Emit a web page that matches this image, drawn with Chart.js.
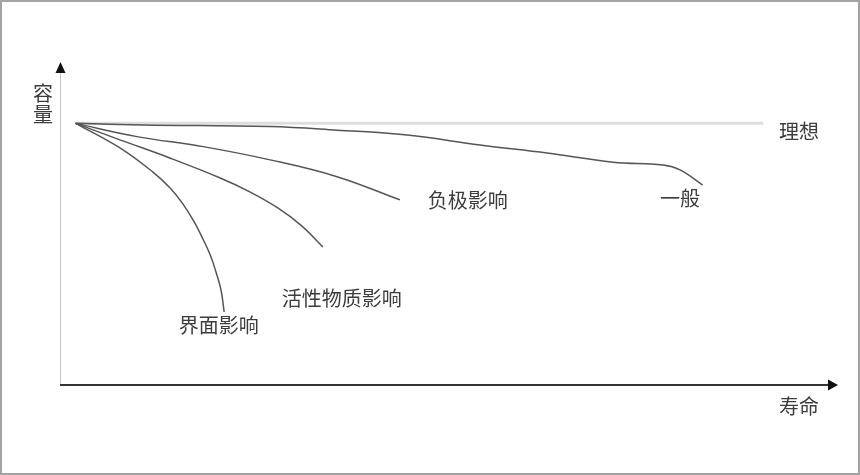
<!DOCTYPE html>
<html>
<head>
<meta charset="utf-8">
<script src="https://cdn.jsdelivr.net/npm/chart.js@4.4.1/dist/chart.umd.min.js"></script>
<style>
  html, body { margin: 0; padding: 0; background: #fff; }
  #chart { display: block; }
</style>
</head>
<body>
<canvas id="chart" width="860" height="475"></canvas>
<script>
// --- Curve data (x = 寿命, y = 容量, both 0..100) ---
const idealX = [2, 90.4];
const idealY = [81, 81];

const generalX = [2, 10.7, 27.0, 35.6, 44.6, 54.0, 62.6, 71.1, 77.5, 79.7, 82.6];
const generalY = [81, 80.5, 80.0, 78.9, 77.4, 74.3, 71.8, 69.0, 68.1, 66.6, 61.9];

const anodeX = [2, 9.9, 18.4, 27.0, 35.6, 43.7];
const anodeY = [81, 76.9, 73.8, 69.7, 64.5, 57.3];

const activeX = [2, 7.7, 14.1, 20.6, 24.4, 28.0, 31.1, 33.8];
const activeY = [81, 75.9, 70.3, 64.1, 59.8, 54.8, 49.2, 42.7];

const interfaceX = [2, 7.7, 11.95, 14.15, 15.7, 17.1, 18.25, 19.3, 20.05, 20.7, 21.1];
const interfaceY = [81, 73.4, 65.9, 61.0, 56.4, 51.1, 45.8, 40.3, 35.0, 29.4, 22.6];

// curve labels: text, x, y (centre, in data units)
const labelTexts = ["理想", "一般", "负极影响", "活性物质影响", "界面影响"];
const labelX = [95.0, 79.7, 52.4, 36.2, 20.4];
const labelY = [78.6, 57.9, 57.3, 26.9, 18.6];

const xAxisTitle = "寿命";
const yAxisTitle = ["容", "量"];

const FONT = '20px "Noto Sans CJK SC", "Noto Sans", sans-serif';
const TEXT_COLOR = "#3c3c3c";

function toPoints(xs, ys) {
  return xs.map((x, i) => ({ x, y: ys[i] }));
}

function curve(xs, ys) {
  return {
    data: toPoints(xs, ys),
    showLine: true,
    borderColor: "#555",
    borderWidth: 1.5,
    pointRadius: 0,
    tension: 0.4,
    order: 1,
  };
}

// --- Axes with arrows, titles, labels and frame ---
const diagramPlugin = {
  id: "diagram",
  afterDatasetsDraw(chart) {
    const { ctx, chartArea: a, scales } = chart;
    const x0 = a.left;
    const y0 = a.bottom;
    ctx.save();

    // y axis: thin grey line + black arrow head
    ctx.strokeStyle = "#c4c4c4";
    ctx.lineWidth = 1;
    ctx.beginPath();
    ctx.moveTo(x0 + 0.5, y0);
    ctx.lineTo(x0 + 0.5, a.top + 10);
    ctx.stroke();
    ctx.fillStyle = "#111";
    ctx.beginPath();
    ctx.moveTo(x0 + 0.5, a.top);
    ctx.lineTo(x0 + 5.5, a.top + 11);
    ctx.lineTo(x0 - 4.5, a.top + 11);
    ctx.closePath();
    ctx.fill();

    // x axis: dark line + arrow head
    ctx.strokeStyle = "#333";
    ctx.lineWidth = 2;
    ctx.beginPath();
    ctx.moveTo(x0, y0);
    ctx.lineTo(a.right - 8, y0);
    ctx.stroke();
    ctx.fillStyle = "#111";
    ctx.beginPath();
    ctx.moveTo(a.right, y0);
    ctx.lineTo(a.right - 10, y0 - 5.5);
    ctx.lineTo(a.right - 10, y0 + 5.5);
    ctx.closePath();
    ctx.fill();

    // titles
    ctx.font = FONT;
    ctx.fillStyle = TEXT_COLOR;
    ctx.textAlign = "center";
    ctx.textBaseline = "middle";
    ctx.fillText(xAxisTitle, a.right - 39, y0 + 21);
    yAxisTitle.forEach((ch, i) => ctx.fillText(ch, x0 - 17, a.top + 31 + i * 21));

    // curve labels
    labelTexts.forEach((t, i) => {
      ctx.fillText(t, scales.x.getPixelForValue(labelX[i]), scales.y.getPixelForValue(labelY[i]));
    });

    // outer frame
    ctx.strokeStyle = "#a3a3a3";
    ctx.lineWidth = 2;
    ctx.strokeRect(1, 1, chart.width - 2, chart.height - 2);
    ctx.restore();
  },
};

new Chart(document.getElementById("chart"), {
  type: "scatter",
  data: {
    datasets: [
      {
        data: toPoints(idealX, idealY),
        showLine: true,
        borderColor: "#dedede",
        borderWidth: 3,
        pointRadius: 0,
        order: 2,
      },
      curve(generalX, generalY),
      curve(anodeX, anodeY),
      curve(activeX, activeY),
      curve(interfaceX, interfaceY),
    ],
  },
  options: {
    responsive: false,
    animation: false,
    devicePixelRatio: 1,
    layout: { padding: { left: 60, right: 22, top: 62, bottom: 90 } },
    plugins: { legend: { display: false }, tooltip: { enabled: false } },
    scales: {
      x: { type: "linear", min: 0, max: 100, display: false },
      y: { type: "linear", min: 0, max: 100, display: false },
    },
  },
  plugins: [diagramPlugin],
});
</script>
</body>
</html>
